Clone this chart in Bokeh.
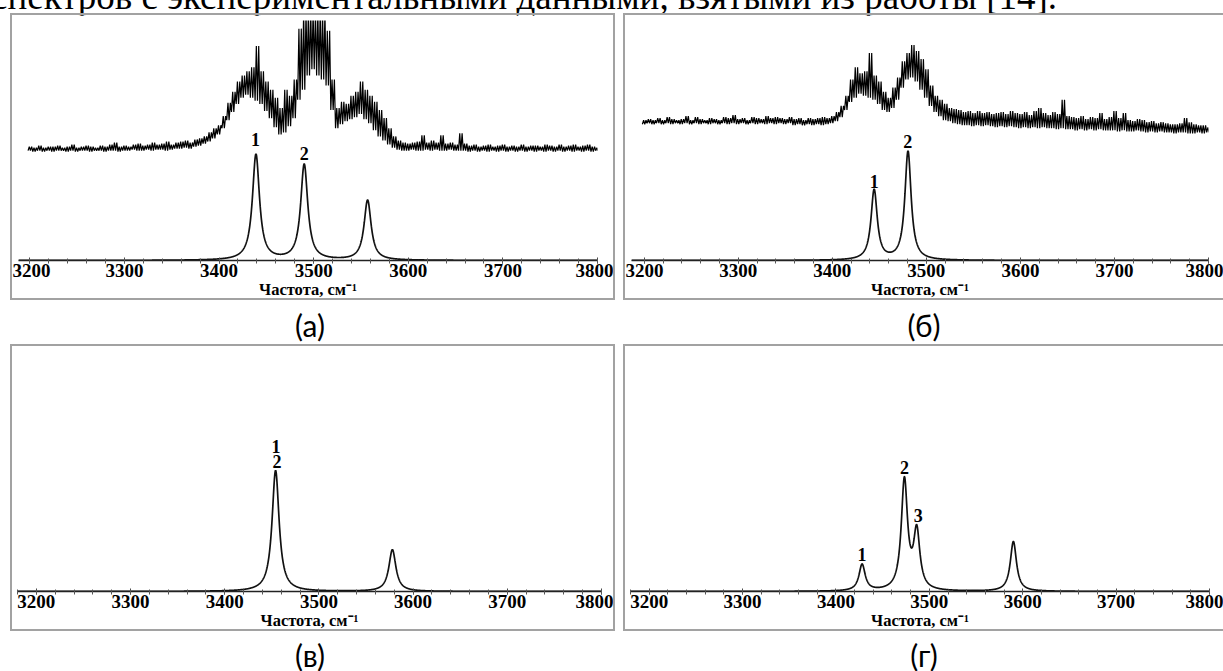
import numpy as np
from bokeh.plotting import figure
from bokeh.models import Range1d, Div, Spacer, FixedTicker, ColumnDataSource
from bokeh.layouts import row, column
from bokeh.embed import file_html
from bokeh.resources import INLINE
from bokeh.core.properties import value

# ---------------- data ----------------
# experimental spectra (min / max of the noisy trace in 5 cm-1 bins), arb. units
freq_exp = list(range(3200, 3801, 5))

exp_a_low = [
    108, 107, 108, 107, 108, 107, 108, 108, 107, 108,
    107, 108, 108, 107, 108, 108, 107, 108, 108, 107,
    108, 108, 109, 108, 108, 109, 108, 109, 109, 108,
    109, 110, 110, 111, 110, 112, 113, 115, 117, 120,
    124, 130, 138, 146, 154, 160, 163, 160, 157, 154,
    147, 140, 131, 124, 126, 132, 140, 158, 168, 182,
    188, 182, 178, 172, 148, 130, 134, 137, 139, 141,
    144, 139, 135, 128, 122, 118, 114, 111, 109, 108,
    108, 109, 108, 108, 109, 108, 109, 108, 108, 109,
    108, 108, 108, 107, 108, 107, 108, 107, 108, 107,
    108, 107, 108, 107, 108, 107, 108, 107, 108, 107,
    108, 107, 108, 107, 108, 107, 108, 107, 108, 107,
    108]
exp_a_high = [
    112, 111, 113, 111, 112, 112, 113, 111, 112, 114,
    111, 112, 113, 112, 111, 113, 112, 114, 116, 112,
    113, 112, 114, 115, 113, 114, 116, 114, 115, 117,
    114, 116, 117, 118, 116, 119, 120, 122, 126, 130,
    133, 142, 155, 166, 176, 182, 186, 190, 211, 186,
    176, 168, 160, 150, 168, 162, 178, 228, 245, 245,
    245, 245, 245, 226, 178, 150, 156, 154, 162, 166,
    176, 168, 162, 156, 148, 140, 130, 122, 118, 116,
    115, 116, 117, 123, 116, 118, 116, 123, 115, 116,
    114, 125, 115, 113, 114, 112, 113, 114, 112, 113,
    114, 112, 113, 112, 114, 112, 113, 113, 112, 114,
    113, 112, 114, 112, 113, 114, 112, 113, 114, 112,
    111]

exp_b_low = [
    134, 135, 134, 135, 134, 135, 134, 135, 134, 135,
    134, 135, 134, 135, 134, 135, 134, 135, 134, 135,
    134, 135, 134, 135, 134, 135, 134, 135, 134, 135,
    134, 135, 133, 134, 133, 134, 133, 134, 133, 134,
    135, 137, 141, 148, 156, 160, 164, 162, 160, 158,
    154, 148, 146, 150, 158, 170, 178, 180, 176, 168,
    160, 152, 146, 142, 138, 137, 135, 134, 133, 133,
    132, 133, 132, 133, 132, 131, 132, 131, 132, 131,
    130, 131, 130, 131, 130, 131, 130, 130, 129, 130,
    129, 129, 128, 129, 128, 129, 128, 129, 128, 128,
    128, 127, 128, 127, 127, 128, 127, 126, 127, 126,
    127, 126, 126, 125, 126, 126, 125, 125, 126, 125,
    126]
exp_b_high = [
    138, 139, 138, 140, 138, 141, 139, 138, 139, 142,
    138, 141, 139, 138, 140, 139, 138, 141, 140, 143,
    139, 140, 138, 141, 140, 139, 142, 140, 141, 140,
    139, 141, 139, 140, 138, 140, 139, 140, 141, 140,
    142, 146, 152, 162, 178, 190, 184, 186, 204, 182,
    176, 166, 160, 170, 180, 196, 204, 212, 206, 198,
    188, 172, 162, 158, 154, 150, 149, 148, 146, 147,
    145, 147, 145, 146, 144, 145, 146, 144, 147, 145,
    144, 146, 143, 147, 150, 145, 143, 146, 144, 158,
    142, 141, 140, 142, 139, 141, 140, 145, 139, 141,
    147, 140, 145, 138, 137, 139, 138, 136, 137, 135,
    136, 135, 134, 134, 135, 140, 136, 134, 133, 133,
    131]

# calculated spectra: line positions (cm-1), intensities (arb. units), half widths
calc_a_pos = [3439, 3490, 3557]
calc_a_int = [104, 94, 59]
calc_a_hw = 4.5
calc_b_pos = [3444.5, 3480.5]
calc_b_int = [69, 107]
calc_b_hw = 4.0
calc_c_pos = [3454, 3454, 3578]
calc_c_int = [60, 59, 41]
calc_c_hw = 4.5
calc_d_pos = [3428, 3473.3, 3486.5, 3590]
calc_d_int = [26, 108, 56.5, 49]
calc_d_hw = 4.0

# peak number labels
lab_a_txt, lab_a_x, lab_a_y = ["1", "2"], [3438.5, 3490], [119, 105]
lab_b_txt, lab_b_x, lab_b_y = ["1", "2"], [3444.7, 3480.3], [78, 117]
lab_c_txt, lab_c_x, lab_c_y = ["1", "2"], [3454.5, 3455.5], [142.7, 127.7]
lab_d_txt, lab_d_x, lab_d_y = ["1", "2", "3"], [3428, 3473.3, 3488], [36, 121.7, 74.7]

major_ticks = [3200, 3300, 3400, 3500, 3600, 3700, 3800]
minor_ticks = list(range(3180, 3801, 20))
x_label = "Частота, см⁻¹"
panel_names = ["(а)", "(б)", "(в)", "(г)"]
top_text = "спектров с экспериментальными данными, взятыми из работы [14]."

# ---------------- drawing ----------------
BORDER = "2px solid #a2a2a2"


def lorentz_sum(x, pos, inten, hw):
    y = np.zeros_like(x)
    for p0, a in zip(pos, inten):
        y += a * hw ** 2 / ((x - p0) ** 2 + hw ** 2)
    return y


def make_panel(x_start, outer_w, left_b, right_b, open_right,
               pos, inten, hw, lab_txt, lab_x, lab_y, exp_low=None, exp_high=None):
    p = figure(width=outer_w, height=287,
               x_range=Range1d(x_start, 3800), y_range=Range1d(0, 236),
               output_backend="svg", toolbar_location=None, y_axis_location=None,
               min_border_left=left_b, min_border_right=right_b,
               min_border_top=5, min_border_bottom=42, margin=0)
    p.grid.visible = False
    p.outline_line_color = None
    p.background_fill_color = "white"
    p.border_fill_color = "white"
    if open_right:
        p.styles = {"border-left": BORDER, "border-top": BORDER, "border-bottom": BORDER}
    else:
        p.styles = {"border": BORDER}

    ax = p.xaxis[0]
    ax.ticker = FixedTicker(ticks=major_ticks, minor_ticks=minor_ticks)
    ax.axis_line_color = "#222222"
    ax.axis_line_width = 1.5
    ax.major_tick_line_color = "#444444"
    ax.minor_tick_line_color = "#555555"
    ax.major_tick_in = 3
    ax.major_tick_out = 3
    ax.minor_tick_in = 2
    ax.minor_tick_out = 3
    ax.major_label_text_font = "Liberation Serif"
    ax.major_label_text_font_style = "bold"
    ax.major_label_text_font_size = "19px"
    ax.major_label_text_color = "black"
    ax.major_label_standoff = 0
    ax.axis_label = x_label
    ax.axis_label_text_font = "Liberation Serif"
    ax.axis_label_text_font_style = "bold"
    ax.axis_label_text_font_size = "16.5px"
    ax.axis_label_text_color = "black"
    ax.axis_label_standoff = 0

    if exp_low is not None:
        xs, ys = [], []
        for f, lo, hi in zip(freq_exp, exp_low, exp_high):
            xs += [f - 1.9, f - 0.6, f + 0.6, f + 1.9]
            ys += [lo, hi, lo, hi]
        p.line(xs, ys, line_color="black", line_width=1.2)

    xc = np.arange(x_start, 3800.01, 0.25)
    yc = lorentz_sum(xc, pos, inten, hw)
    p.line(xc, yc, line_color="#111111", line_width=1.7)

    src = ColumnDataSource(dict(x=lab_x, y=lab_y, t=lab_txt))
    p.text(x="x", y="y", text="t", source=src, text_align="center",
           text_baseline="middle", text_font=value("Liberation Serif"),
           text_font_style="bold", text_font_size="18px", text_color="black")
    return p


fig_a = make_panel(3188, 605, 6, 20, False, calc_a_pos, calc_a_int, calc_a_hw,
                   lab_a_txt, lab_a_x, lab_a_y, exp_a_low, exp_a_high)
fig_b = make_panel(3186.5, 600, 6, 17, True, calc_b_pos, calc_b_int, calc_b_hw,
                   lab_b_txt, lab_b_x, lab_b_y, exp_b_low, exp_b_high)
fig_c = make_panel(3180, 605, 5, 16, False, calc_c_pos, calc_c_int, calc_c_hw,
                   lab_c_txt, lab_c_x, lab_c_y)
fig_d = make_panel(3180, 600, 5, 16, True, calc_d_pos, calc_d_int, calc_d_hw,
                   lab_d_txt, lab_d_x, lab_d_y)

top_div = Div(
    text=('<div style="font-family:\'Liberation Serif\'; font-weight:normal; font-size:37px; '
          'line-height:37px; white-space:nowrap; margin-left:-9px; color:#000;">'
          + top_text + '</div>'),
    width=1223, height=35, margin=0)


def label_div(txt, width, shift, h, pad):
    return Div(text=('<div style="font-family:Lato; font-weight:normal; font-size:30px; '
                     'line-height:30px; width:%dpx; text-align:center; padding-top:%dpx; '
                     'margin-left:%dpx; color:#000;">%s</div>' % (width - shift, pad, shift, txt)),
               width=width, height=h, margin=0)


root = column(
    top_div,
    row(Spacer(width=10, height=287, margin=0), fig_a, Spacer(width=8, height=287, margin=0), fig_b,
        margin=0),
    row(label_div(panel_names[0], 615, 5, 44, 10), label_div(panel_names[1], 608, 10, 44, 10),
        margin=0),
    row(Spacer(width=10, height=287, margin=0), fig_c, Spacer(width=8, height=287, margin=0), fig_d,
        margin=0),
    row(label_div(panel_names[2], 615, 5, 40, 9), label_div(panel_names[3], 608, 10, 40, 9),
        margin=0),
    margin=0,
)
root.styles = {"margin-top": "-22px", "margin-bottom": "-12px"}

open("out.html", "w").write(file_html(root, INLINE))
